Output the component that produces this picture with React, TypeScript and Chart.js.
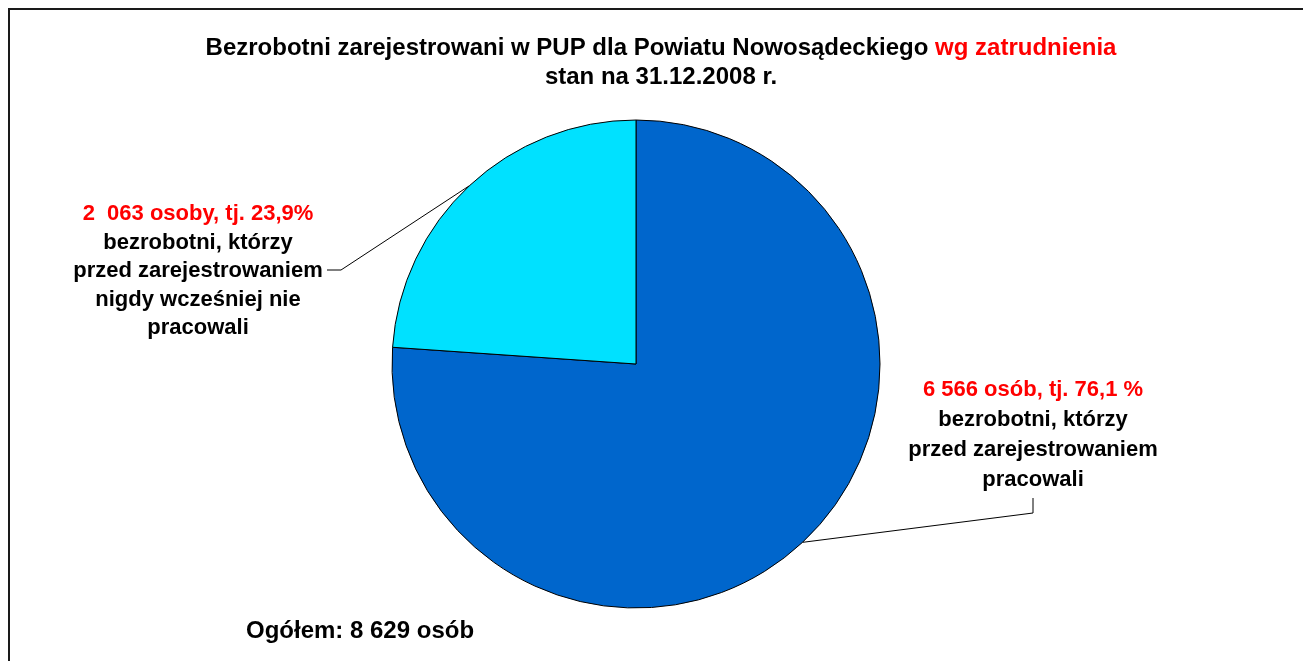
import React, { useEffect, useRef } from "react";
import { Chart, registerables } from "chart.js";

Chart.register(...registerables);

const categories = [
  "bezrobotni, którzy przed zarejestrowaniem pracowali",
  "bezrobotni, którzy przed zarejestrowaniem nigdy wcześniej nie pracowali",
];
const values = [6566, 2063];
const colors = ["#0066CC", "#00E1FF"];
const titleLine1Black = "Bezrobotni zarejestrowani w PUP dla Powiatu Nowosądeckiego ";
const titleLine1Red = "wg zatrudnienia";
const titleLine2 = "stan na 31.12.2008 r.";
const labelHeads = ["6 566 osób, tj. 76,1 %", "2  063 osoby, tj. 23,9%"];
const labelBodies = [
  ["bezrobotni, którzy", "przed zarejestrowaniem", "pracowali"],
  ["bezrobotni, którzy", "przed zarejestrowaniem", "nigdy wcześniej nie", "pracowali"],
];
const totalText = "Ogółem: 8 629 osób";

const FAMILY = "'Liberation Sans', Arial, sans-serif";
const TITLE_FONT = `bold 24px ${FAMILY}`;
const LABEL_FONT = `bold 22px ${FAMILY}`;
const RED = "#FF0000";

const labelPlugin = {
  id: "customLabels",
  afterDraw(chart: any) {
    const ctx = chart.ctx as CanvasRenderingContext2D;
    const W = chart.width;
    ctx.save();
    // frame
    ctx.strokeStyle = "#1a1a1a";
    ctx.lineWidth = 2;
    ctx.beginPath();
    ctx.moveTo(1, chart.height);
    ctx.lineTo(1, 1);
    ctx.lineTo(W, 1);
    ctx.stroke();

    ctx.textBaseline = "alphabetic";
    // title
    ctx.font = TITLE_FONT;
    const wB = ctx.measureText(titleLine1Black).width;
    const wR = ctx.measureText(titleLine1Red).width;
    const cx = 653;
    const x0 = cx - (wB + wR) / 2;
    ctx.textAlign = "left";
    ctx.fillStyle = "#000";
    ctx.fillText(titleLine1Black, x0, 47);
    ctx.fillStyle = RED;
    ctx.fillText(titleLine1Red, x0 + wB, 47);
    ctx.textAlign = "center";
    ctx.fillStyle = "#000";
    ctx.fillText(titleLine2, cx, 76);

    // slice labels
    ctx.font = LABEL_FONT;
    const meta = chart.getDatasetMeta(0);
    const cfg = [
      { tx: 1025, ty: 388, lh: 30, elbow: [1025, 505], end: [1025, 490] },
      { tx: 190, ty: 212, lh: 28.5, elbow: [333, 262], end: [319, 262] },
    ];
    meta.data.forEach((arc: any, i: number) => {
      const p = arc.getProps(["x", "y", "startAngle", "endAngle", "outerRadius"], true);
      const mid = (p.startAngle + p.endAngle) / 2;
      const sx = p.x + Math.cos(mid) * p.outerRadius;
      const sy = p.y + Math.sin(mid) * p.outerRadius;
      const c = cfg[i];
      ctx.strokeStyle = "#000";
      ctx.lineWidth = 1;
      ctx.beginPath();
      ctx.moveTo(sx, sy);
      ctx.lineTo(c.elbow[0], c.elbow[1]);
      ctx.lineTo(c.end[0], c.end[1]);
      ctx.stroke();
      ctx.textAlign = "center";
      ctx.fillStyle = RED;
      ctx.fillText(labelHeads[i], c.tx, c.ty);
      ctx.fillStyle = "#000";
      labelBodies[i].forEach((ln, k) => {
        ctx.fillText(ln, c.tx, c.ty + c.lh * (k + 1));
      });
    });

    ctx.font = TITLE_FONT;
    ctx.textAlign = "left";
    ctx.fillStyle = "#000";
    ctx.fillText(totalText, 238, 630);
    ctx.restore();
  },
};

export default function App() {
  const ref = useRef<HTMLCanvasElement>(null);
  useEffect(() => {
    if (!ref.current) return;
    const chart = new Chart(ref.current, {
      type: "pie",
      data: {
        labels: categories,
        datasets: [
          {
            data: values,
            backgroundColor: colors,
            borderColor: "#000",
            borderWidth: 1,
          },
        ],
      },
      options: {
        animation: false,
        responsive: false,
        radius: 244,
        layout: { padding: { left: 0, right: 39, top: 59, bottom: 0 } },
        plugins: {
          legend: { display: false },
          title: { display: false },
          tooltip: { enabled: false },
        },
      } as any,
      plugins: [labelPlugin],
    });
    return () => chart.destroy();
  }, []);
  return (
    <div style={{ position: "fixed", inset: 0, overflow: "hidden", background: "#fff" }}>
      <canvas
        ref={ref}
        width={1295}
        height={653}
        style={{ position: "absolute", left: 8, top: 8, width: 1295, height: 653, display: "block" }}
      />
    </div>
  );
}
